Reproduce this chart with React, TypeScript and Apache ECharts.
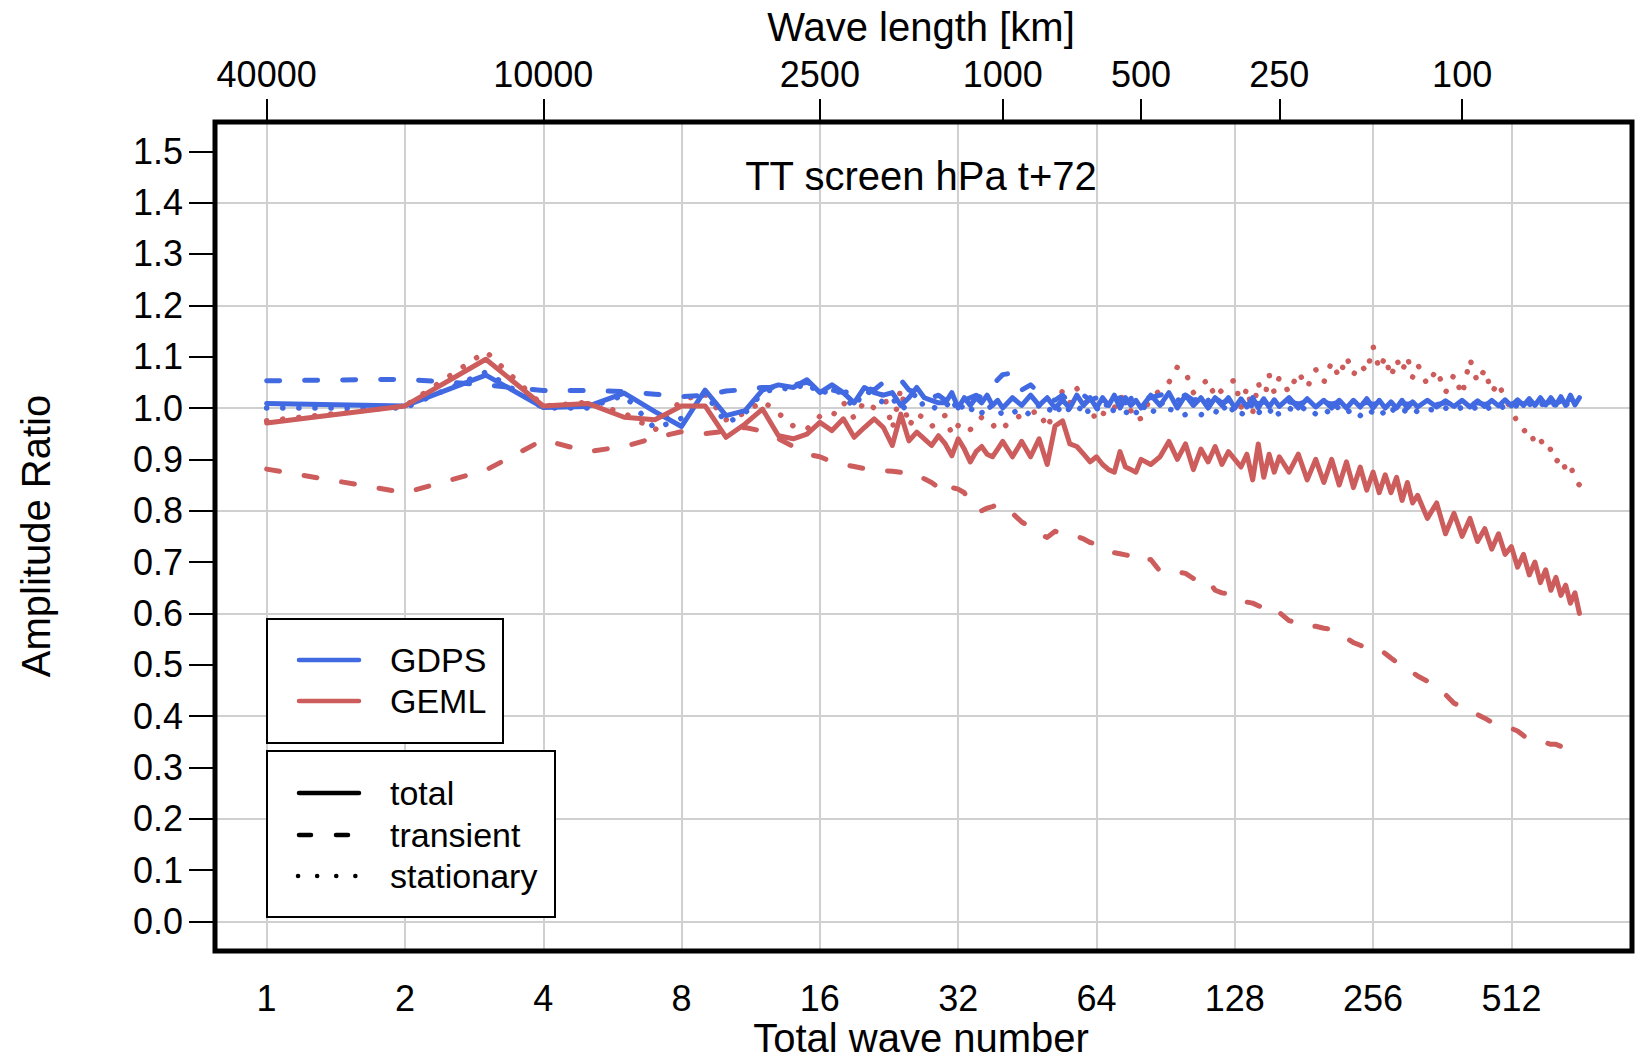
import React, { useEffect, useRef } from "react";
import * as echarts from "echarts";

// Total wave numbers at which the curves are read (n)
const waveNumbers = [
  1, 2, 3, 4, 5, 6, 7, 8, 9, 10, 11, 12, 13, 14, 15, 16, 17, 18, 19, 20,
  21, 22, 23, 24, 25, 26, 27, 28, 29, 30, 31, 32, 33, 34, 35, 36, 37, 38, 39, 40,
  42, 44, 46, 48, 50, 52, 54, 56, 58, 60, 62, 64, 66, 68, 70, 72, 74, 76, 78, 80,
  84, 88, 92, 96, 100, 104, 108, 112, 116, 120, 124, 128, 132, 136, 140, 144, 148, 152, 156, 160,
  168, 176, 184, 192, 200, 208, 216, 224, 232, 240, 248, 256, 264, 272, 280, 288, 296, 304, 312, 320,
  336, 352, 368, 384, 400, 416, 432, 448, 464, 480, 496, 512, 528, 544, 560, 576, 592, 608, 624, 640,
  656, 672, 688, 704, 720,
];

// GDPS (blue)
const gdpsTotal = [
  1.009, 1.004, 1.064, 1.001, 1.003, 1.029, 0.993, 0.964, 1.035, 0.985,
  0.995, 1.035, 1.045, 1.04, 1.055, 1.03, 1.045, 1.03, 1.01, 1.04,
  1.03, 1.025, 1.03, 1.005, 1.02, 1.04, 1.02, 1.015, 1.01, 1.01,
  1.03, 1.0, 1.02, 1.005, 1.02, 1.01, 1.025, 1.005, 1.015, 1.0,
  1.02, 1.005, 1.025, 1.005, 1.02, 1.0, 1.015, 1.0, 1.025, 1.005,
  1.02, 1.0, 1.02, 1.005, 1.025, 1.0, 1.02, 1.005, 1.015, 1.0,
  1.025, 1.005, 1.03, 1.0, 1.025, 1.005, 1.02, 1.0, 1.02, 1.005,
  1.02, 1.0, 1.018, 1.002, 1.02, 1.0, 1.018, 1.002, 1.016, 1.003,
  1.02, 1.0, 1.018, 1.002, 1.015, 1.0, 1.015, 1.0, 1.015, 1.002,
  1.018, 1.0, 1.015, 1.0, 1.012, 1.0, 1.015, 1.0, 1.012, 1.002,
  1.015, 1.002, 1.014, 1.003, 1.015, 1.002, 1.014, 1.003, 1.015, 1.004,
  1.016, 1.004, 1.016, 1.005, 1.018, 1.005, 1.02, 1.006, 1.02, 1.006,
  1.022, 1.005, 1.025, 1.006, 1.02,
];
const gdpsTransient = [
  1.053, 1.056, 1.045, 1.034, 1.034, 1.032, 1.027, 1.022, 1.025, 1.033,
  1.036, 1.04, 1.04, 1.045, 1.05, 1.04, 1.035, 1.03, 1.035, 1.04,
  1.035, 1.05, 1.06, 1.055, 1.035, 1.03, 1.025, 1.02, 1.025, 1.015,
  1.02, 1.01, 1.015, 1.02, 1.025, 1.02, 1.035, 1.045, 1.055, 1.065,
  1.068, 1.035, 1.045, 1.03, 1.02, 1.015, 1.025, 1.01, 1.02, 1.025,
  1.015, 1.02, 1.03, 1.02, 1.015, 1.02, 1.01, 1.02, 1.015, 1.02,
  1.02, 1.025, 1.03, 1.02, 1.025, 1.015, 1.02, 1.015, 1.02, 1.01,
  1.015, 1.01, 1.012, 1.008, 1.012, 1.008, 1.012, 1.008, 1.012, 1.008,
  1.012, 1.008, 1.012, 1.008, 1.011, 1.008, 1.011, 1.007, 1.011, 1.007,
  1.011, 1.007, 1.01, 1.007, 1.01, 1.007, 1.01, 1.007, 1.01, 1.007,
  1.01, 1.007, 1.01, 1.007, 1.01, 1.007, 1.01, 1.007, 1.01, 1.007,
  1.01, 1.008, 1.011, 1.008, 1.011, 1.008, 1.012, 1.009, 1.012, 1.009,
  1.013, 1.01, 1.013, 1.01, 1.012,
];
const gdpsStationary = [
  1.0, 1.0, 1.07, 1.0, 1.0, 1.025, 0.96, 0.98, 1.03, 0.97,
  0.99, 1.03, 1.04, 1.035, 1.05, 1.025, 1.04, 1.025, 1.0, 1.035,
  1.025, 1.01, 1.02, 0.995, 1.01, 1.03, 1.0, 1.005, 0.995, 1.0,
  1.02, 0.99, 1.01, 0.995, 1.005, 0.99, 1.01, 0.995, 1.0, 0.985,
  0.99, 1.0, 0.985, 1.005, 0.99, 1.01, 0.985, 1.0, 0.99, 1.01,
  0.985, 1.0, 0.99, 1.015, 0.99, 1.01, 0.985, 1.02, 0.99, 1.01,
  0.985, 1.015, 0.99, 1.02, 0.985, 1.01, 0.985, 1.015, 0.99, 1.01,
  0.985, 1.005, 0.99, 0.985, 1.01, 0.99, 1.0, 0.99, 1.005, 0.985,
  1.0, 0.99, 1.005, 0.988, 1.0, 0.985, 1.005, 0.99, 1.0, 0.985,
  1.0, 0.99, 1.0, 0.985, 1.0, 0.99, 1.0, 0.99, 1.0, 0.992,
  1.0, 0.992, 1.0, 0.993, 1.002, 0.995, 1.003, 0.995, 1.004, 0.997,
  1.005, 0.998, 1.006, 1.0, 1.008, 1.0, 1.01, 1.002, 1.012, 1.004,
  1.012, 1.005, 1.015, 1.01, 1.01,
];

// GEML (red)
const gemlTotal = [
  0.971, 1.004, 1.095, 1.004, 1.009, 0.982, 0.977, 1.004, 1.004, 0.943,
  0.969, 0.998, 0.946, 0.94, 0.949, 0.972, 0.956, 0.979, 0.943, 0.962,
  0.979, 0.962, 0.927, 0.988, 0.936, 0.953, 0.94, 0.927, 0.946, 0.93,
  0.907, 0.94, 0.92, 0.895, 0.915, 0.925, 0.91, 0.905, 0.92, 0.935,
  0.905, 0.935, 0.905, 0.94, 0.89, 0.965, 0.975, 0.93, 0.925, 0.91,
  0.895, 0.905, 0.89, 0.88, 0.875, 0.915, 0.885, 0.88, 0.875, 0.9,
  0.89, 0.905, 0.935, 0.9, 0.93, 0.88, 0.92, 0.895, 0.925, 0.89,
  0.915, 0.9, 0.885, 0.91, 0.86, 0.93, 0.865, 0.91, 0.875, 0.905,
  0.875, 0.91, 0.86, 0.9, 0.855, 0.9, 0.85, 0.895, 0.845, 0.885,
  0.84, 0.875, 0.835, 0.87, 0.835, 0.865, 0.82, 0.855, 0.815, 0.83,
  0.785, 0.815, 0.755, 0.795, 0.75, 0.785, 0.74, 0.765, 0.725, 0.755,
  0.715, 0.73, 0.69, 0.715, 0.675, 0.7, 0.66, 0.685, 0.645, 0.67,
  0.635, 0.655, 0.62, 0.64, 0.6,
];
const gemlTransient = [
  0.881, 0.835, 0.879, 0.938, 0.915, 0.925, 0.942, 0.954, 0.95, 0.955,
  0.962, 0.955, 0.94, 0.925, 0.91, 0.905, 0.895, 0.89, 0.886, 0.882,
  0.88, 0.878, 0.877, 0.875, 0.875, 0.872, 0.862, 0.855, 0.845, 0.832,
  0.845, 0.842, 0.835, 0.815, 0.803, 0.8, 0.805, 0.808, 0.812, 0.812,
  0.795, 0.778, 0.768, 0.755, 0.748, 0.76, 0.755, 0.75, 0.75, 0.745,
  0.738, 0.735, 0.73, 0.726, 0.718, 0.716, 0.714, 0.712, 0.702, 0.705,
  0.705, 0.682, 0.68, 0.681, 0.678, 0.668, 0.66, 0.664, 0.645, 0.64,
  0.638, 0.635, 0.625, 0.622, 0.62, 0.615, 0.61, 0.6, 0.605, 0.602,
  0.586, 0.58, 0.573, 0.575, 0.571, 0.569, 0.56, 0.552, 0.543, 0.538,
  0.532, 0.533, 0.53, 0.522, 0.513, 0.505, 0.494, 0.49, 0.485, 0.478,
  0.468, 0.458, 0.442, 0.425, 0.418, 0.413, 0.403, 0.396, 0.388, 0.384,
  0.38, 0.376, 0.371, 0.362, 0.355, 0.352, 0.35, 0.348, 0.345, 0.345,
  0.341, 0.338, 0.336, 0.33, 0.325,
];
const gemlStationary = [
  0.975, 1.004, 1.11, 1.004, 1.011, 0.99, 0.957, 1.016, 1.027, 0.977,
  0.99, 1.014, 0.99, 0.965, 0.959, 0.984, 0.984, 1.011, 0.98, 1.013,
  1.0, 1.034, 0.959, 1.038, 0.964, 0.99, 0.979, 0.964, 0.975, 0.986,
  0.948, 0.966, 0.953, 0.958, 0.97, 0.982, 0.975, 0.964, 0.97, 0.96,
  0.979, 0.985, 0.99, 0.995, 0.96, 1.0, 1.034, 1.01, 1.038, 1.02,
  1.0, 0.975, 0.99, 0.985, 1.0, 1.025, 1.01, 0.995, 0.975, 0.98,
  1.02, 1.034, 1.05, 1.08, 1.07, 1.03, 1.044, 1.056, 1.02, 1.035,
  1.047, 1.055, 1.0, 1.04, 0.99, 1.05, 1.01, 1.065, 1.03, 1.06,
  1.03, 1.07, 1.04, 1.075, 1.05, 1.09, 1.06, 1.1, 1.065, 1.085,
  1.07, 1.12, 1.075, 1.1, 1.06, 1.095, 1.07, 1.1, 1.06, 1.085,
  1.045, 1.075, 1.03, 1.065, 1.025, 1.095, 1.05, 1.075, 1.03, 1.05,
  1.015, 1.0, 0.97, 0.955, 0.96, 0.93, 0.94, 0.915, 0.92, 0.895,
  0.905, 0.88, 0.89, 0.86, 0.85,
];

// Axes
const bottomTicks = [1, 2, 4, 8, 16, 32, 64, 128, 256, 512];
const earthCircumferenceKm = 40000;
const topWaveLengthsKm = [40000, 10000, 2500, 1000, 500, 250, 100];
const yTicks = [0, 0.1, 0.2, 0.3, 0.4, 0.5, 0.6, 0.7, 0.8, 0.9, 1.0, 1.1, 1.2, 1.3, 1.4, 1.5];
const yGridValues = [0, 0.2, 0.4, 0.6, 0.8, 1.0, 1.2, 1.4];

const FONT = '"Liberation Sans", Arial, Helvetica, sans-serif';
const BLUE = "#4169E1";
const RED = "#CD5C5C";
const DASH = [13, 25];
const DOT = [0.1, 16];

export default function App() {
  const ref = useRef<HTMLDivElement>(null);

  useEffect(() => {
    if (!ref.current) return;
    const chart = echarts.init(ref.current, null, { renderer: "svg" });

    const grid = { left: 215, top: 122, width: 1417, height: 829 };
    const xMin = 0.772;
    const xMax = 937;
    const yMin = -0.0575;
    const yMax = 1.557;

    const pairs = (vals: number[]) => waveNumbers.map((n, i) => [n, vals[i]]);
    const lineSeries = (name: string, vals: number[], color: string, type: any, width: number, z: number, extra: any = {}) => ({
      name,
      type: "line",
      xAxisIndex: 0,
      yAxisIndex: 0,
      data: pairs(vals),
      showSymbol: false,
      symbol: "none",
      silent: true,
      z,
      lineStyle: { color, width, type, cap: "round", join: "round" },
      emphasis: { disabled: true },
      ...extra,
    });

    const gridLineStyle = { color: "#d0d0d0", width: 2, type: "solid" };
    const markLine = {
      silent: true,
      z: 1,
      symbol: ["none", "none"],
      label: { show: false },
      lineStyle: gridLineStyle,
      emphasis: { disabled: true },
      data: [
        ...bottomTicks.map((v) => ({ xAxis: v })),
        ...yGridValues.map((v) => ({ yAxis: v })),
      ],
    };

    const topTicks = topWaveLengthsKm.map((l) => earthCircumferenceKm / l);

    const text = (t: string, x: number, y: number, size: number, extra: any = {}) => ({
      type: "text",
      x,
      y,
      z: 230,
      silent: true,
      ...extra,
      style: {
        text: t,
        x: 0,
        y: 0,
        fill: "#000",
        font: `${size}px ${FONT}`,
        fontSize: size,
        fontFamily: FONT,
        textAlign: extra.align || "center",
        textVerticalAlign: "middle",
        align: extra.align || "center",
        verticalAlign: "middle",
      },
    });

    const legendLine = (x1: number, x2: number, y: number, color: string, dash: any) => ({
      type: "line",
      z: 220,
      silent: true,
      shape: { x1, y1: y, x2, y2: y },
      style: { stroke: color, lineWidth: 4.5, lineCap: "round", lineDash: dash },
    });

    const option: any = {
      animation: false,
      backgroundColor: "#ffffff",
      grid: { ...grid, show: false, containLabel: false },
      xAxis: [
        {
          type: "log",
          logBase: 2,
          min: xMin,
          max: xMax,
          position: "bottom",
          axisLine: { show: false },
          axisTick: {
            show: true,
            customValues: bottomTicks,
            length: 26,
            inside: false,
            lineStyle: { color: "#000", width: 2 },
          },
          axisLabel: {
            show: true,
            customValues: bottomTicks,
            margin: 29,
            color: "#000",
            fontSize: 36,
            fontFamily: FONT,
            formatter: (v: number) => String(Math.round(v)),
          },
          splitLine: { show: false },
          minorTick: { show: false },
          minorSplitLine: { show: false },
        },
        {
          type: "log",
          logBase: 2,
          min: xMin,
          max: xMax,
          position: "top",
          axisLine: { show: false },
          axisTick: {
            show: true,
            customValues: topTicks,
            length: 23,
            inside: false,
            lineStyle: { color: "#000", width: 2 },
          },
          axisLabel: {
            show: true,
            customValues: topTicks,
            margin: 30,
            color: "#000",
            fontSize: 36,
            fontFamily: FONT,
            formatter: (v: number) => String(Math.round(earthCircumferenceKm / v)),
          },
          splitLine: { show: false },
          minorTick: { show: false },
          minorSplitLine: { show: false },
        },
      ],
      yAxis: {
        type: "value",
        min: yMin,
        max: yMax,
        axisLine: { show: false },
        axisTick: {
          show: true,
          customValues: yTicks,
          length: 26,
          inside: false,
          lineStyle: { color: "#000", width: 2 },
        },
        axisLabel: {
          show: true,
          customValues: yTicks,
          margin: 32,
          color: "#000",
          fontSize: 36,
          fontFamily: FONT,
          formatter: (v: number) => v.toFixed(1),
        },
        splitLine: { show: false },
      },
      series: [
        lineSeries("GEML stationary", gemlStationary, RED, DOT, 5.5, 2, { markLine }),
        lineSeries("GDPS stationary", gdpsStationary, BLUE, DOT, 5.5, 3),
        lineSeries("GDPS transient", gdpsTransient, BLUE, DASH, 5, 4),
        lineSeries("GDPS total", gdpsTotal, BLUE, "solid", 5, 5),
        lineSeries("GEML transient", gemlTransient, RED, DASH, 5, 6),
        lineSeries("GEML total", gemlTotal, RED, "solid", 5, 7),
      ],
      graphic: {
        elements: [
          {
            type: "rect",
            z: 150,
            silent: true,
            shape: { x: grid.left, y: grid.top, width: grid.width, height: grid.height },
            style: { fill: "none", stroke: "#000", lineWidth: 5 },
          },
          text("Wave length [km]", 921, 27, 40),
          text("Total wave number", 921, 1038, 40),
          text("TT screen hPa t+72", 921, 176, 40),
          text("Amplitude Ratio", 36, 536, 40, { rotation: Math.PI / 2 }),
          // legend: models
          {
            type: "rect",
            z: 210,
            silent: true,
            shape: { x: 267, y: 619, width: 236, height: 124 },
            style: { fill: "#fff", stroke: "#000", lineWidth: 2 },
          },
          legendLine(299, 359, 660, BLUE, null),
          legendLine(299, 359, 701, RED, null),
          text("GDPS", 390, 660, 34, { align: "left" }),
          text("GEML", 390, 701, 34, { align: "left" }),
          // legend: components
          {
            type: "rect",
            z: 210,
            silent: true,
            shape: { x: 267, y: 751, width: 288, height: 166 },
            style: { fill: "#fff", stroke: "#000", lineWidth: 2 },
          },
          legendLine(299, 359, 793, "#000", null),
          legendLine(299, 348, 835, "#000", [12, 25]),
          legendLine(298, 356, 876, "#000", [0.1, 19]),
          text("total", 390, 793, 34, { align: "left" }),
          text("transient", 390, 835, 34, { align: "left" }),
          text("stationary", 390, 876, 34, { align: "left" }),
        ],
      },
    };

    chart.setOption(option);
    return () => {
      chart.dispose();
    };
  }, []);

  return (
    <div
      ref={ref}
      style={{ position: "fixed", left: 0, top: 0, width: 1642, height: 1059, background: "#fff" }}
    />
  );
}
